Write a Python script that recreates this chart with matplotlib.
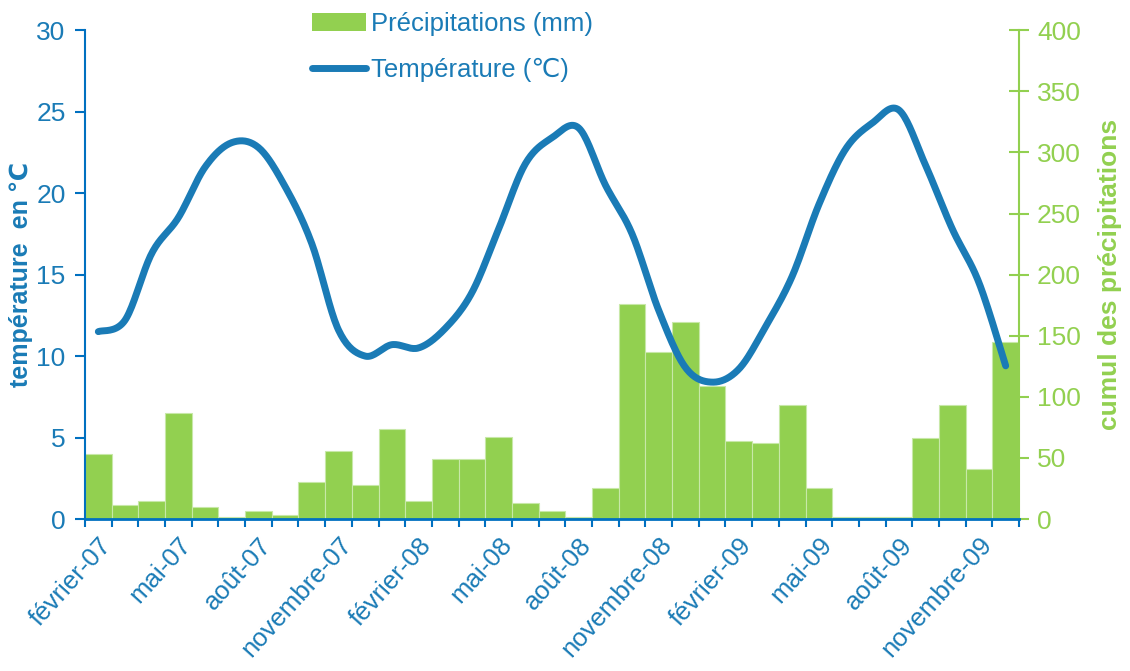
import numpy as np
import matplotlib
matplotlib.use('Agg')
import matplotlib.pyplot as plt
from matplotlib.lines import Line2D
from matplotlib.patches import Patch

plt.rcParams['font.family'] = ['Liberation Sans', 'DejaVu Sans']

# monthly series, février 2007 -> décembre 2009
mois = ['février-07', 'mars-07', 'avril-07', 'mai-07', 'juin-07', 'juillet-07',
        'août-07', 'septembre-07', 'octobre-07', 'novembre-07', 'décembre-07',
        'janvier-08', 'février-08', 'mars-08', 'avril-08', 'mai-08', 'juin-08',
        'juillet-08', 'août-08', 'septembre-08', 'octobre-08', 'novembre-08',
        'décembre-08', 'janvier-09', 'février-09', 'mars-09', 'avril-09',
        'mai-09', 'juin-09', 'juillet-09', 'août-09', 'septembre-09',
        'octobre-09', 'novembre-09', 'décembre-09']
precip = [53, 11.5, 15, 87, 10, 2, 6.5, 3, 30, 56, 28, 74,
          15, 49, 49, 67, 13, 6.5, 1.5, 25, 176, 137, 161,
          109, 64, 62.5, 93.5, 25, 1.5, 1.5, 1.5, 66, 93.5, 41, 145]
temp = [11.5, 12.2, 16.3, 18.5, 21.6, 23.1, 22.8, 20.4, 16.9, 11.6, 10.0, 10.7,
        10.5, 11.7, 13.9, 17.8, 21.8, 23.4, 24.0, 20.5, 17.5, 12.8, 9.3,
        8.4, 9.2, 11.8, 14.9, 19.3, 22.7, 24.3, 25.1, 21.7, 17.8, 14.5, 9.4]

blue = '#1a7bb6'
axis_blue = '#0070c0'
green = '#92d050'


def smooth(x, y, n=20):
    # Catmull-Rom style bezier through every point (like a spreadsheet smoothed line)
    x = np.asarray(x, float)
    y = np.asarray(y, float)
    px = np.concatenate([[x[0]], x, [x[-1]]])
    py = np.concatenate([[y[0]], y, [y[-1]]])
    xs, ys = [], []
    t = np.linspace(0, 1, n, endpoint=False)
    for i in range(1, len(px) - 2):
        p0, p1, p2, p3 = [np.array([px[j], py[j]]) for j in (i - 1, i, i + 1, i + 2)]
        c1 = p1 + (p2 - p0) / 6
        c2 = p2 - (p3 - p1) / 6
        b = ((1 - t) ** 3)[:, None] * p1 + (3 * (1 - t) ** 2 * t)[:, None] * c1 \
            + (3 * (1 - t) * t ** 2)[:, None] * c2 + (t ** 3)[:, None] * p2
        xs.append(b[:, 0])
        ys.append(b[:, 1])
    xs.append([x[-1]])
    ys.append([y[-1]])
    return np.concatenate(xs), np.concatenate(ys)


fig, ax = plt.subplots(figsize=(11.3, 6.71), dpi=100)
fig.subplots_adjust(left=0.0752, right=0.9018, top=0.955, bottom=0.2265)
ax2 = ax.twinx()
ax.set_zorder(2)
ax.patch.set_visible(False)

xpos = np.arange(len(mois))
ax2.bar(xpos, precip, width=1.0, color=green, edgecolor='#c8e8a8', linewidth=0.8)
sx, sy = smooth(xpos, temp)
ax.plot(sx, sy, color=blue, lw=5, solid_capstyle='round', solid_joinstyle='round')

ax.set_xlim(-0.5, len(mois) - 0.5)
ax.set_ylim(0, 30)
ax2.set_ylim(0, 400)
ax.set_yticks(range(0, 31, 5))
ax2.set_yticks(range(0, 401, 50))

ax.set_xticks(xpos[::3])
ax.set_xticklabels(mois[::3], rotation=48, ha='right', rotation_mode='anchor',
                   fontsize=18.5, color=blue)
ax.set_xticks(np.arange(-0.5, len(mois), 1), minor=True)
ax.tick_params(axis='x', which='major', length=0, pad=10)
ax.tick_params(axis='x', which='minor', length=6, width=1.5, color=axis_blue, direction='out')
ax.tick_params(axis='y', length=7, width=1.5, color=axis_blue, labelcolor=blue,
               labelsize=19, direction='out', pad=7)
ax2.tick_params(axis='y', length=14, width=1.5, color=green, labelcolor=green,
                labelsize=19, direction='inout', pad=6)
ax2.tick_params(axis='x', length=0)

for s in ['top', 'right']:
    ax.spines[s].set_visible(False)
for s in ['top', 'left', 'bottom']:
    ax2.spines[s].set_visible(False)
ax.spines['left'].set_color(axis_blue)
ax.spines['left'].set_linewidth(1.5)
ax.spines['bottom'].set_color(axis_blue)
ax.spines['bottom'].set_linewidth(2)
ax2.spines['right'].set_color(green)
ax2.spines['right'].set_linewidth(1.5)

ax.set_ylabel('température  en ℃', fontsize=18, fontweight='bold', color=blue, labelpad=2)
ax2.set_ylabel('cumul des précipitations', fontsize=19, fontweight='bold', color=green,
               labelpad=12)

handles = [Patch(facecolor=green, edgecolor='none'),
           Line2D([0], [0], color=blue, lw=5, solid_capstyle='round')]
ax.legend(handles, ['Précipitations (mm)', 'Température (℃)'], loc='upper left',
          bbox_to_anchor=(0.218, 1.085), frameon=False, fontsize=18.5, labelcolor=blue,
          handlelength=2.1, handletextpad=0.2, labelspacing=0.85)

fig.savefig('out.png', dpi=100)
